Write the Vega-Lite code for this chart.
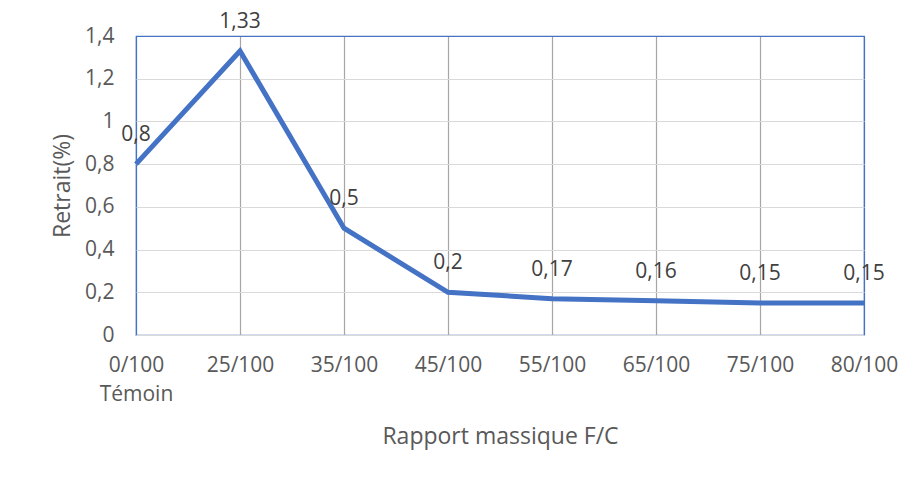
{
  "$schema": "https://vega.github.io/schema/vega-lite/v6.json",
  "autosize": {"type": "none"},
  "padding": {"left": 136, "top": 36, "right": 51, "bottom": 144},
  "width": 728,
  "height": 299,
  "background": "white",
  "config": {
    "font": "Open Sans",
    "view": {"stroke": "#4472C4", "strokeWidth": 1.2}
  },
  "data": {
    "values": [
      {"rapport": "0/100", "retrait": 0.8, "lab": "0,8"},
      {"rapport": "25/100", "retrait": 1.33, "lab": "1,33"},
      {"rapport": "35/100", "retrait": 0.5, "lab": "0,5"},
      {"rapport": "45/100", "retrait": 0.2, "lab": "0,2"},
      {"rapport": "55/100", "retrait": 0.17, "lab": "0,17"},
      {"rapport": "65/100", "retrait": 0.16, "lab": "0,16"},
      {"rapport": "75/100", "retrait": 0.15, "lab": "0,15"},
      {"rapport": "80/100", "retrait": 0.15, "lab": "0,15"}
    ]
  },
  "encoding": {
    "x": {
      "field": "rapport",
      "type": "ordinal",
      "sort": null,
      "scale": {"type": "point", "padding": 0},
      "axis": {
        "title": "Rapport massique F/C",
        "titleFont": "Open Sans",
        "titleFontSize": 23,
        "titleFontWeight": "normal",
        "titleColor": "#595959",
        "titleY": 101,
        "titleBaseline": "middle",
        "labelAngle": 0,
        "labelFontSize": 21,
        "labelColor": "#595959",
        "labelPadding": 19,
        "labelLineHeight": 29,
        "labelExpr": "datum.label == '0/100' ? ['0/100', 'Témoin'] : datum.label",
        "ticks": false,
        "domainColor": "#d9d9d9",
        "domainWidth": 1.2,
        "grid": true,
        "gridColor": {"condition": {"test": "datum.value == '0/100' || datum.value == '80/100'", "value": "#4472C4"}, "value": "#a6a6a6"},
        "gridWidth": 1.2
      }
    },
    "y": {
      "field": "retrait",
      "type": "quantitative",
      "scale": {"domain": [0, 1.4], "nice": false},
      "axis": {
        "title": "Retrait(%)",
        "titleFont": "Open Sans",
        "titleFontSize": 23,
        "titleFontWeight": "normal",
        "titleColor": "#595959",
        "titleX": -74,
        "titleBaseline": "middle",
        "values": [0, 0.2, 0.4, 0.6, 0.8, 1, 1.2, 1.4],
        "labelExpr": "replace(format(datum.value, '~g'), '.', ',')",
        "labelFontSize": 21,
        "labelColor": "#595959",
        "labelPadding": 22,
        "ticks": false,
        "domain": false,
        "grid": true,
        "gridColor": {"condition": {"test": "datum.value == 1.4", "value": "#4472C4"}, "value": "#d9d9d9"},
        "gridWidth": 1.2
      }
    }
  },
  "layer": [
    {
      "mark": {"type": "line", "color": "#4472C4", "strokeWidth": 5, "strokeJoin": "miter", "strokeCap": "butt"}
    },
    {
      "mark": {"type": "text", "fontSize": 21, "color": "#404040", "baseline": "middle", "dy": -29},
      "encoding": {"text": {"field": "lab"}}
    }
  ]
}
